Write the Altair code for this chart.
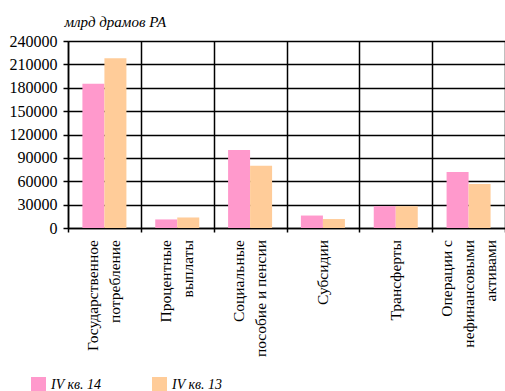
import altair as alt
import pandas as pd

# Expenditure categories (line breaks split the axis labels)
categories = [
    "Государственное\nпотребление",
    "Процентные\nвыплаты",
    "Социальные\nпособие и пенсии",
    "Субсидии",
    "Трансферты",
    "Операции с\nнефинансовыми\nактивами",
]
series = ["IV кв. 14", "IV кв. 13"]
q4_14 = [185000, 11000, 100000, 16000, 28000, 72000]
q4_13 = [218000, 13500, 80000, 11500, 28000, 56500]
colors = ["#FF99CC", "#FFCC99"]
y_ticks = [0, 30000, 60000, 90000, 120000, 150000, 180000, 210000, 240000]

rows = []
for cat, a, b in zip(categories, q4_14, q4_13):
    rows.append({"category": cat, "series": series[0], "value": a})
    rows.append({"category": cat, "series": series[1], "value": b})
df = pd.DataFrame(rows)
labels_df = pd.DataFrame({"category": categories})

serif = "Liberation Serif"
plot_w, plot_h = 437, 187
line_h = 22

x_enc = alt.X(
    "category:N",
    sort=categories,
    title=None,
    scale=alt.Scale(paddingInner=0, paddingOuter=0),
    axis=alt.Axis(
        labels=False,
        tickBand="extent",
        grid=True,
        gridColor="black",
        gridWidth=1.5,
        gridOpacity=1,
        ticks=True,
        tickSize=4,
        tickColor="black",
        tickWidth=1.5,
        domainColor="black",
        domainWidth=1.5,
    ),
)

bars = (
    alt.Chart(df)
    .mark_bar()
    .encode(
        x=x_enc,
        xOffset=alt.XOffset(
            "series:N",
            sort=series,
            scale=alt.Scale(paddingInner=0, paddingOuter=0.655),
        ),
        y=alt.Y(
            "value:Q",
            scale=alt.Scale(domain=[0, 240000], nice=False),
            axis=alt.Axis(
                values=y_ticks,
                format="d",
                title="млрд драмов РА",
                titleAngle=0,
                titleAlign="left",
                titleBaseline="alphabetic",
                titleX=-4,
                titleY=-15,
                titleFont=serif,
                titleFontStyle="italic",
                titleFontWeight="normal",
                titleFontSize=15,
                titleColor="black",
                labelFont=serif,
                labelFontSize=16,
                labelColor="black",
                labelPadding=6,
                tickSize=5,
                tickColor="black",
                tickWidth=1.5,
                domainColor="black",
                domainWidth=1.5,
                gridColor="black",
                gridWidth=1.5,
                gridOpacity=1,
            ),
        ),
        color=alt.Color(
            "series:N",
            sort=series,
            scale=alt.Scale(domain=series, range=colors),
            legend=alt.Legend(
                title=None,
                orient="none",
                legendX=-37,
                legendY=336,
                direction="horizontal",
                symbolType="square",
                symbolSize=225,
                symbolStrokeWidth=0,
                symbolOpacity=1,
                labelFont=serif,
                labelFontStyle="italic",
                labelFontSize=14,
                labelColor="black",
                labelOffset=5,
                columnPadding=50,
                padding=0,
            ),
        ),
    )
)


# Category names under the axis, read bottom-to-top; each multi-line block
# is shifted so that it stays centred on its band.
def label_layer(n_lines):
    return (
        alt.Chart(labels_df)
        .transform_calculate(n="length(split(datum.category, '\\n'))")
        .transform_filter(f"datum.n == {n_lines}")
        .mark_text(
            angle=270,
            align="right",
            baseline="middle",
            lineBreak="\n",
            lineHeight=line_h,
            dy=-(n_lines - 1) * line_h / 2,
            font=serif,
            fontSize=15.5,
            color="black",
        )
        .encode(
            x=alt.X("category:N", sort=categories),
            y=alt.value(plot_h + 12),
            text="category:N",
        )
    )


chart = (
    alt.layer(bars, label_layer(1), label_layer(2), label_layer(3))
    .properties(
        width=plot_w,
        height=plot_h,
        autosize="none",
        padding={"left": 68, "top": 41, "right": 0, "bottom": 163},
        background="white",
    )
    .configure(font=serif)
    .configure_view(stroke=None)
)

chart.save("out.html", embed_options={"renderer": "svg", "actions": False})
